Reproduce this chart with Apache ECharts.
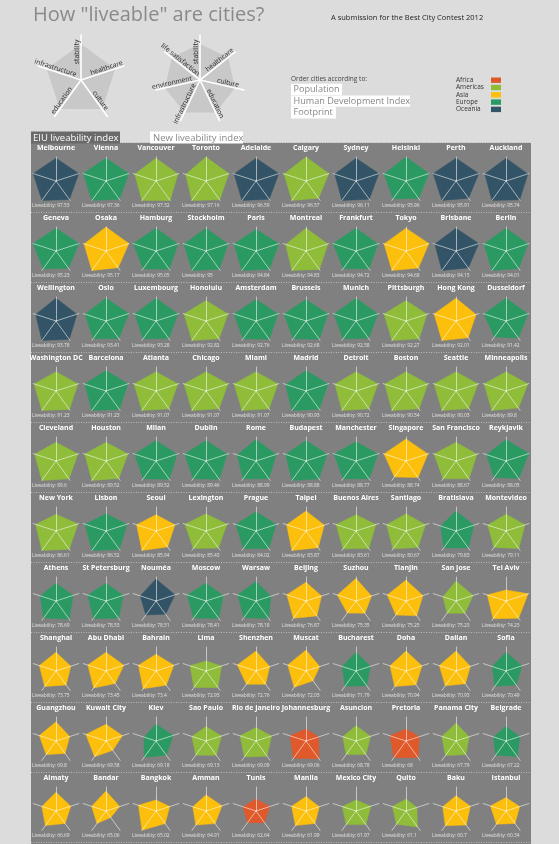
<!DOCTYPE html>
<html><head><meta charset="utf-8">
<script src="https://cdn.jsdelivr.net/npm/echarts@6/dist/echarts.min.js"></script>
<style>html,body{margin:0;padding:0;background:#dcdcdc}#c{width:559px;height:844px}</style>
</head><body><div id="c"></div>
<script>
// ---------------- DATA ----------------
const cities = [
 'Melbourne','Vienna','Vancouver','Toronto','Adelaide','Calgary','Sydney','Helsinki','Perth','Auckland',
 'Geneva','Osaka','Hamburg','Stockholm','Paris','Montreal','Frankfurt','Tokyo','Brisbane','Berlin',
 'Wellington','Oslo','Luxembourg','Honolulu','Amsterdam','Brussels','Munich','Pittsburgh','Hong Kong','Dusseldorf',
 'Washington DC','Barcelona','Atlanta','Chicago','Miami','Madrid','Detroit','Boston','Seattle','Minneapolis',
 'Cleveland','Houston','Milan','Dublin','Rome','Budapest','Manchester','Singapore','San Francisco','Reykjavik',
 'New York','Lisbon','Seoul','Lexington','Prague','Taipei','Buenos Aires','Santiago','Bratislava','Montevideo',
 'Athens','St Petersburg','Nouméa','Moscow','Warsaw','Beijing','Suzhou','Tianjin','San Jose','Tel Aviv',
 'Shanghai','Abu Dhabi','Bahrain','Lima','Shenzhen','Muscat','Bucharest','Doha','Dalian','Sofia',
 'Guangzhou','Kuwait City','Kiev','Sao Paulo','Rio de Janeiro','Johannesburg','Asuncion','Pretoria','Panama City','Belgrade',
 'Almaty','Bandar','Bangkok','Amman','Tunis','Manila','Mexico City','Quito','Baku','Istanbul'];
const liveability = [
 97.53,97.36,97.32,97.16,96.59,96.57,96.11,95.96,95.91,95.74,
 95.23,95.17,95.05,95,94.84,94.83,94.72,94.68,94.15,94.01,
 93.78,93.41,93.28,92.82,92.76,92.68,92.58,92.27,92.01,91.42,
 91.23,91.23,91.07,91.07,91.07,90.93,90.72,90.54,90.03,89.8,
 89.6,89.52,89.52,89.46,88.99,88.88,88.77,88.74,88.67,88.05,
 86.61,86.52,85.94,85.43,84.02,83.87,83.61,80.67,79.83,79.11,
 78.69,78.53,78.51,78.41,78.18,76.87,75.35,75.25,75.23,74.23,
 73.75,73.45,73.4,72.93,72.76,72.03,71.79,70.94,70.93,70.49,
 69.8,69.58,69.18,69.13,69.09,69.06,68.78,68,67.79,67.22,
 66.69,65.06,65.02,64.91,62.64,61.99,61.97,61.1,60.7,60.34];
const region = [
 'Oceania','Europe','Americas','Americas','Oceania','Americas','Oceania','Europe','Oceania','Oceania',
 'Europe','Asia','Europe','Europe','Europe','Americas','Europe','Asia','Oceania','Europe',
 'Oceania','Europe','Europe','Americas','Europe','Europe','Europe','Americas','Asia','Europe',
 'Americas','Europe','Americas','Americas','Americas','Europe','Americas','Americas','Americas','Americas',
 'Americas','Americas','Europe','Europe','Europe','Europe','Europe','Asia','Americas','Europe',
 'Americas','Europe','Asia','Americas','Europe','Asia','Americas','Americas','Europe','Americas',
 'Europe','Europe','Oceania','Europe','Europe','Asia','Asia','Asia','Americas','Asia',
 'Asia','Asia','Asia','Americas','Asia','Asia','Europe','Asia','Asia','Europe',
 'Asia','Asia','Europe','Americas','Americas','Africa','Americas','Africa','Americas','Europe',
 'Asia','Asia','Asia','Asia','Africa','Asia','Americas','Americas','Asia','Asia'];
const stability = [
 95,95,95,100,95,100,95,100,95,95,
 95,100,95,95,90,95,95,95,95,95,
 95,95,95,85,90,90,95,85,95,95,
 80,85,80,80,80,85,80,80,80,80,
 78,78,85,85,90,85,80,92,78,90,
 70,72,68,72,80,83,68,72,83,70,
 74,74,92,74,81,78,94,87,83,46,
 78,78,70,42,83,87,78,83,83,78,
 80,70,70,60,56,50,64,50,74,60,
 78,83,46,67,50,60,46,50,64,56];
const healthcare = [
 100,100,96,100,100,100,100,100,100,96,
 100,100,96,96,100,96,96,100,100,96,
 92,100,96,96,96,96,96,92,88,96,
 96,96,96,96,96,96,96,96,96,96,
 96,96,92,92,88,92,96,96,92,100,
 96,92,83,92,88,80,87,85,78,83,
 75,75,83,75,65,68,68,74,75,97,
 65,78,78,68,60,60,63,70,63,70,
 60,72,75,68,68,55,64,58,58,60,
 65,60,60,70,60,58,65,48,63,60];
const culture = [
 95,94,100,97,94,89,94,90,89,97,
 89,86,94,94,94,95,92,88,87,90,
 94,90,90,92,94,94,89,92,86,88,
 95,95,92,92,92,94,92,92,90,88,
 92,90,94,94,92,92,92,85,92,90,
 94,95,82,88,90,86,90,85,87,90,
 93,89,68,90,90,77,63,76,63,89,
 72,65,73,85,68,50,76,71,66,72,
 64,48,73,73,78,91,70,86,70,80,
 64,33,65,65,60,64,70,82,72,64];
const education = [
 100,100,100,100,100,100,100,92,100,100,
 92,100,92,100,100,100,92,100,100,100,
 100,92,92,100,92,92,92,100,100,83,
 100,100,100,100,100,100,100,100,100,100,
 100,100,92,92,92,100,92,82,92,85,
 100,100,100,90,90,100,92,92,87,85,
 88,90,72,88,86,89,62,72,63,91,
 80,87,91,85,68,84,79,80,76,79,
 70,81,84,73,82,89,70,86,75,73,
 75,64,99,72,60,75,70,68,76,68];
const infrastructure = [
 100,100,93,89,96,96,93,96,100,93,
 100,96,100,96,96,89,100,96,93,96,
 89,92,93,96,96,96,96,96,96,96,
 96,93,96,96,96,89,92,93,96,96,
 93,93,93,93,82,89,96,96,96,85,
 89,92,85,92,88,85,87,85,67,80,
 69,80,69,82,80,84,82,82,57,82,
 73,80,77,70,82,80,60,70,73,60,
 73,88,52,62,70,70,58,70,62,55,
 62,63,77,58,57,63,60,60,58,68];
const eiuAxes = ['stability','healthcare','culture','education','infrastructure'];
const newAxes = ['stability','healthcare','culture','education','infrastructure','environment','life satisfaction'];
const regionNames = ['Africa','Americas','Asia','Europe','Oceania'];
const regionColors = ['#e0592a','#8fbd3a','#fcbf0c','#2a9a62','#335467'];
const orderOptions = ['Population','Human Development Index','Footprint'];

// ---------------- BUILD ----------------
const FONT = '"Open Sans", "DejaVu Sans", sans-serif';
const colorOf = r => regionColors[regionNames.indexOf(r)];
// ECharts places indicators counter-clockwise from the top; list clockwise axes reversed after the first
const ccw = arr => [arr[0]].concat(arr.slice(1).reverse());

const radars = [], series = [], els = [];
els.push({type:'rect', z:0, shape:{x:31,y:143,width:500,height:701}, style:{fill:'#808080'}});
for (let r = 0; r <= 10; r++) {
  els.push({type:'line', z:1, shape:{x1:31,y1:142.5+70*r,x2:531,y2:142.5+70*r},
    style:{stroke:'#b8b8b8', lineWidth:1, lineDash:[1,1.5]}});
}
cities.forEach((name, i) => {
  const c = i % 10, r = Math.floor(i / 10);
  const cx = 56 + 50*c, cy = 181 + 70*r;
  radars.push({
    center:[cx, cy], radius:24, startAngle:90, shape:'polygon', splitNumber:1, z:3, silent:true,
    indicator: ccw(eiuAxes).map(n => ({name:n, min:0, max:100})),
    axisName:{show:false}, axisTick:{show:false}, axisLabel:{show:false},
    splitLine:{show:false}, splitArea:{show:false},
    axisLine:{lineStyle:{color:'rgba(255,255,255,0.55)', width:1}}
  });
  const col = colorOf(region[i]);
  series.push({
    type:'radar', radarIndex:i, z:1, silent:true, symbol:'none',
    lineStyle:{width:0.5, color:col}, areaStyle:{color:col, opacity:1}, itemStyle:{color:col},
    data:[{name:name, value: ccw([stability[i], healthcare[i], culture[i], education[i], infrastructure[i]])}]
  });
  els.push({type:'text', z:5, x:cx, y:148+70*r, style:{text:name, fill:'#ffffff',
    font:'bold 7px '+FONT, align:'center', verticalAlign:'middle'}});
  els.push({type:'text', z:5, x:32+50*c, y:206+70*r, style:{text:'Liveability: '+liveability[i], fill:'#e2e2e2',
    font:'4.9px '+FONT, align:'left', verticalAlign:'middle'}});
});

// legend radars (explanation of the axes)
function legendRadar(axes, cx, cy, idx) {
  radars.push({
    center:[cx, cy], radius:45, startAngle:90, shape:'polygon', splitNumber:1, z:3, silent:true,
    indicator: ccw(axes).map(n => ({name:n, min:0, max:100})),
    axisName:{show:false}, axisTick:{show:false}, axisLabel:{show:false},
    splitLine:{show:false}, splitArea:{show:false},
    axisLine:{lineStyle:{color:'#ffffff', width:1.6}}
  });
  series.push({type:'radar', radarIndex:idx, z:1, silent:true, symbol:'none',
    lineStyle:{width:0}, areaStyle:{color:'#c8c8c8', opacity:1},
    data:[{value: axes.map(() => 80)}]});
  const n = axes.length;
  axes.forEach((a, k) => {
    let ang = 90 - k*360/n; // clockwise
    while (ang <= -180) ang += 360;
    let rot = (ang > -90 && ang <= 90) ? ang : ang - 180;
    const rad = ang*Math.PI/180, d = 28;
    els.push({type:'text', z:10, x: cx + d*Math.cos(rad), y: cy - d*Math.sin(rad), rotation: rot*Math.PI/180,
      style:{text:a, fill:'#2a2a2a', font:'6.8px '+FONT, align:'center', verticalAlign:'bottom'}});
  });
}
legendRadar(eiuAxes, 81, 80, cities.length);
legendRadar(newAxes, 200, 80, cities.length+1);

// titles and boxes
els.push({type:'text', z:5, x:33, y:15, style:{text:'How "liveable" are cities?', fill:'#8a8a8a', font:'20px '+FONT, verticalAlign:'middle'}});
els.push({type:'text', z:5, x:331, y:18, style:{text:'A submission for the Best City Contest 2012', fill:'#222', font:'7.5px '+FONT, verticalAlign:'middle'}});
els.push({type:'rect', z:5, shape:{x:31,y:131.5,width:89,height:12}, style:{fill:'#6a6a6a'}});
els.push({type:'text', z:6, x:33, y:137.8, style:{text:'EIU liveability index', fill:'#fff', font:'9.5px '+FONT, verticalAlign:'middle'}});
els.push({type:'rect', z:5, shape:{x:150,y:131.5,width:93,height:12}, style:{fill:'#fff'}});
els.push({type:'text', z:6, x:153, y:137.8, style:{text:'New liveability index', fill:'#888', font:'9.5px '+FONT, verticalAlign:'middle'}});
els.push({type:'text', z:5, x:291, y:79, style:{text:'Order cities according to:', fill:'#444', font:'6.5px '+FONT, verticalAlign:'middle'}});
const boxW = [51, 119, 45];
orderOptions.forEach((t, k) => {
  const y = 83.7 + k*11.7;
  els.push({type:'rect', z:5, shape:{x:291,y:y,width:boxW[k],height:11.3}, style:{fill:'#fff'}});
  els.push({type:'text', z:6, x:293.5, y:y+5.8, style:{text:t, fill:'#888', font:'9.1px '+FONT, verticalAlign:'middle'}});
});
regionNames.forEach((t, k) => {
  const y = 80.2 + k*7.3;
  els.push({type:'text', z:5, x:456, y:y, style:{text:t, fill:'#333', font:'6.5px '+FONT, verticalAlign:'middle'}});
  els.push({type:'rect', z:5, shape:{x:491,y:y-2.7,width:10,height:5.4}, style:{fill:regionColors[k]}});
});

const chart = echarts.init(document.getElementById('c'), null, {renderer:'canvas'});
chart.setOption({backgroundColor:'#dcdcdc', animation:false, radar:radars, series:series, graphic:{elements:els}});
</script></body></html>
